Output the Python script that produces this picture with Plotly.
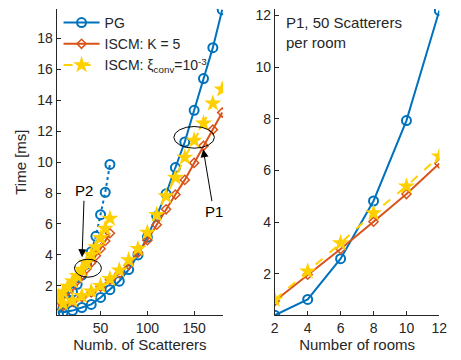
import plotly.graph_objects as go
from plotly.subplots import make_subplots

# ---- Left panel data ----
x_p1 = [10, 20, 30, 40, 50, 60, 70, 80, 90, 100, 110, 120, 130, 140, 150, 160, 170, 180]
pg_p1 = [0.3, 0.4, 0.6, 0.8, 1.25, 1.75, 2.3, 3.05, 4.0, 5.15, 6.5, 7.95, 9.65, 11.3, 13.35, 15.4, 17.4, 19.85]
iscm_p1 = [0.7, 1.0, 1.27, 1.57, 1.95, 2.4, 2.8, 3.35, 4.15, 4.95, 5.95, 6.95, 7.9, 8.85, 9.95, 11.05, 12.1, 13.2]
conv_p1 = [0.85, 1.05, 1.35, 1.65, 2.0, 2.45, 3.0, 3.67, 4.4, 5.45, 6.6, 7.8, 9.0, 10.3, 11.4, 12.5, 13.8, 14.7]

x_p2 = [5, 10, 15, 20, 25, 30, 35, 40, 45, 50, 55, 60]
pg_p2 = [0.2, 0.6, 1.1, 1.6, 2.1, 2.7, 3.4, 4.2, 5.2, 6.6, 8.05, 9.85]
iscm_p2 = [1.1, 1.4, 1.7, 2.0, 2.35, 2.7, 3.1, 3.5, 3.95, 4.4, 4.9, 5.4]
conv_p2 = [1.3, 1.6, 1.95, 2.3, 2.65, 3.05, 3.5, 4.0, 4.5, 5.1, 5.7, 6.35]

# ---- Right panel data ----
rooms = [2, 4, 6, 8, 10, 12]
pg_rooms = [0.4, 1.01, 2.59, 4.82, 7.93, 12.19]
iscm_rooms = [0.95, 1.97, 2.96, 4.02, 5.09, 6.27]
conv_rooms = [1.0, 2.1, 3.19, 4.35, 5.39, 6.55]

left_xticks = [50, 100, 150]
left_yticks = [2, 4, 6, 8, 10, 12, 14, 16, 18]
right_xticks = [2, 4, 6, 8, 10, 12]
right_yticks = [2, 4, 6, 8, 10, 12]

BLUE = "#0072BD"
ORANGE = "#D95319"
YELLOW = "#FFD000"
AX = "#262626"
FONT = "Liberation Sans, Arial, sans-serif"

fig = make_subplots(rows=1, cols=2)

def add_set(x, pg, iscm, conv, col, pg_dash, legend):
    fig.add_trace(go.Scatter(x=x, y=pg, mode="lines+markers", name="PG",
                             line=dict(color=BLUE, width=2, dash=pg_dash),
                             marker=dict(symbol="circle-open", size=9, color=BLUE, line=dict(width=2)),
                             showlegend=legend), row=1, col=col)
    fig.add_trace(go.Scatter(x=x, y=iscm, mode="lines+markers", name="ISCM: K = 5",
                             line=dict(color=ORANGE, width=2),
                             marker=dict(symbol="diamond-open", size=7, color=ORANGE, line=dict(width=1.5)),
                             showlegend=legend), row=1, col=col)
    fig.add_trace(go.Scatter(x=x, y=conv, mode="lines+markers",
                             name="ISCM: ξ<sub>conv</sub>=10<sup>-3</sup>",
                             line=dict(color=YELLOW, width=2, dash="dash"),
                             marker=dict(symbol="star", size=13, color=YELLOW, line=dict(width=0)),
                             showlegend=legend), row=1, col=col)

add_set(x_p2, pg_p2, iscm_p2, conv_p2, 1, "dot", False)
add_set(x_p1, pg_p1, iscm_p1, conv_p1, 1, "solid", True)
add_set(rooms, pg_rooms, iscm_rooms, conv_rooms, 2, "solid", False)

axcommon = dict(showline=True, linecolor=AX, linewidth=1, ticks="inside", ticklen=4,
                tickcolor=AX, tickfont=dict(size=14, color=AX, family=FONT),
                showgrid=False, zeroline=False, mirror=False)

fig.update_xaxes(**axcommon)
fig.update_yaxes(**axcommon)

fig.update_layout(
    width=461, height=360,
    margin=dict(l=0, r=0, t=0, b=0),
    paper_bgcolor="white", plot_bgcolor="white",
    font=dict(family=FONT, color=AX, size=14),
    xaxis=dict(domain=[54/461, 225/461], range=[3, 181], tickvals=left_xticks,
               title=dict(text="Numb. of Scatterers", font=dict(size=15), standoff=3)),
    yaxis=dict(domain=[1-315/360, 1-7/360], range=[0.1, 19.9], tickvals=left_yticks,
               title=dict(text="Time [ms]", font=dict(size=15), standoff=6)),
    xaxis2=dict(domain=[278/461, 447/461], range=[2, 12], tickvals=right_xticks,
                title=dict(text="Number of rooms", font=dict(size=15), standoff=3)),
    yaxis2=dict(domain=[1-315/360, 1-7/360], range=[0.4, 12.25], tickvals=right_yticks),
    legend=dict(x=56/461, y=1-5/360, xanchor="left", yanchor="top",
                bgcolor="rgba(255,255,255,0)", font=dict(size=14, color=AX),
                itemwidth=36, tracegroupgap=0),
    showlegend=True,
)

# Ellipses
fig.add_shape(type="circle", xref="x", yref="y", x0=36.5-14.4, x1=36.5+14.4,
              y0=3.14-0.58, y1=3.14+0.58, line=dict(color="black", width=1))
fig.add_shape(type="circle", xref="x", yref="y", x0=150-21.7, x1=150+21.7,
              y0=11.6-0.7, y1=11.6+0.7, line=dict(color="black", width=1))

# Arrows with labels
fig.add_annotation(x=30.2, y=3.85, ax=32.6, ay=8.15, xref="x", yref="y", axref="x", ayref="y",
                   text="P2", showarrow=True, arrowhead=2, arrowsize=1.6, arrowwidth=1,
                   arrowcolor="black", font=dict(size=15, color="black"))
fig.add_annotation(x=159.7, y=10.83, ax=170.8, ay=6.83, xref="x", yref="y", axref="x", ayref="y",
                   text="P1", showarrow=True, arrowhead=2, arrowsize=1.6, arrowwidth=1,
                   arrowcolor="black", font=dict(size=15, color="black"))

fig.add_annotation(x=287/461, y=1-10/360, xref="paper", yref="paper", xanchor="left", yanchor="top",
                   text="P1, 50 Scatterers<br>per room", showarrow=False, align="left",
                   font=dict(size=15, color=AX))

fig.write_html("out.html")
